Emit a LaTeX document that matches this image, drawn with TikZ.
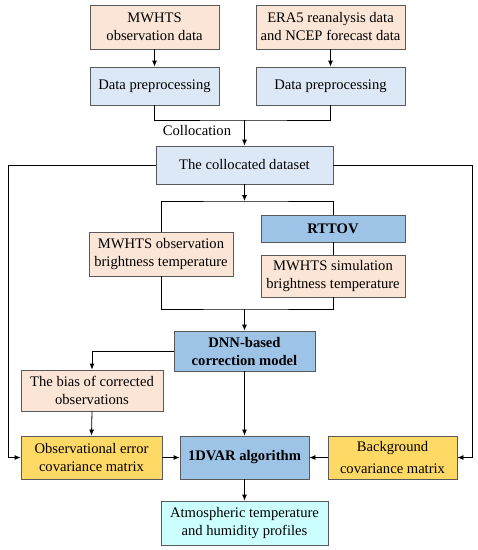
\documentclass[tikz,border=0pt]{standalone}
\usepackage{fontspec}
\setmainfont{Liberation Serif}
\usetikzlibrary{arrows.meta}
\definecolor{peach}{HTML}{FBE5D6}
\definecolor{lblue}{HTML}{DCE8F5}
\definecolor{mblue}{HTML}{9DC3E6}
\definecolor{ylw}{HTML}{FFD966}
\definecolor{cyn}{HTML}{CCFFFF}
\definecolor{edge}{HTML}{595959}
\tikzset{
  box/.style={draw=edge, line width=0.8pt, align=center, inner sep=1pt,
    font=\fontsize{14.6}{18}\selectfont},
  bbox/.style={box, font=\fontsize{14.6}{18}\selectfont\bfseries},
  arr/.style={-{Latex[length=6pt,width=5pt]}, line width=0.8pt},
  ln/.style={line width=0.8pt},
}
\begin{document}
\begin{tikzpicture}[x=1pt,y=-1pt]
\useasboundingbox (0,0) rectangle (478,550);
\node[box, fill=peach, minimum width=129pt, minimum height=44pt] (n1) at (154.5,27) {MWHTS\\observation data};
\node[box, fill=peach, minimum width=149pt, minimum height=44pt] (n2) at (330.5,27) {ERA5 reanalysis data\\and NCEP forecast data};
\node[box, fill=lblue, minimum width=129pt, minimum height=38pt] (p1) at (154.5,86) {Data preprocessing};
\node[box, fill=lblue, minimum width=149pt, minimum height=38pt] (p2) at (330.5,86) {Data preprocessing};
\node[box, fill=lblue, minimum width=177pt, minimum height=38pt] (col) at (244.5,165) {The collocated dataset};
\node[bbox, fill=mblue, minimum width=144pt, minimum height=27pt] (rttov) at (333,228.5) {RTTOV};
\node[box, fill=peach, minimum width=144pt, minimum height=44pt] (obsbt) at (161,254) {MWHTS observation\\brightness temperature};
\node[box, fill=peach, minimum width=144pt, minimum height=42pt] (simbt) at (333,276) {MWHTS simulation\\brightness temperature};
\node[bbox, fill=mblue, minimum width=141pt, minimum height=40pt] (dnn) at (244.5,351) {DNN-based\\correction model};
\node[box, fill=peach, minimum width=142pt, minimum height=41pt] (bias) at (92,390.5) {The bias of corrected\\observations};
\node[box, fill=ylw, minimum width=141pt, minimum height=43pt] (oerr) at (91.5,457.5) {Observational error\\covariance matrix};
\node[bbox, fill=mblue, minimum width=129pt, minimum height=43pt] (var) at (244.5,457.5) {1DVAR algorithm};
\node[box, fill=ylw, minimum width=129pt, minimum height=43pt] (bg) at (392.5,457.5) {Background\\[4pt]covariance matrix};
\node[box, fill=cyn, minimum width=167pt, minimum height=44pt] (out) at (244.5,523) {Atmospheric temperature\\and humidity profiles};
\node[font=\fontsize{14.6}{18}\selectfont] (lab) at (197,131) {Collocation};
\coordinate (m1) at (244.5,120);
\coordinate (s1) at (244.5,201);
\coordinate (m2) at (244.5,309);
\coordinate (L) at (8,165);
\coordinate (R) at (472,165);
\draw[arr] (n1) -- (p1);
\draw[arr] (n2) -- (p2);
\draw[ln] (p1.south) |- (m1) -| (p2.south);
\draw[arr] (m1) -- (col.north);
\draw[arr] (col.south) -- (s1);
\draw[ln] (obsbt.north) |- (s1) -| (rttov.north);
\draw[ln] (rttov.south) -- (simbt.north);
\draw[ln] (obsbt.south) |- (m2) -| (simbt.south);
\draw[arr] (m2) -- (dnn.north);
\draw[arr] (dnn.west) -| (bias.north);
\draw[arr] (bias.south) -- (oerr.north);
\draw[arr] (dnn.south) -- (var.north);
\draw[arr] (oerr.east) -- (var.west);
\draw[arr] (bg.west) -- (var.east);
\draw[arr] (var.south) -- (out.north);
\draw[arr] (col.west) -- (L) |- (oerr.west);
\draw[arr] (col.east) -- (R) |- (bg.east);
\end{tikzpicture}
\end{document}
